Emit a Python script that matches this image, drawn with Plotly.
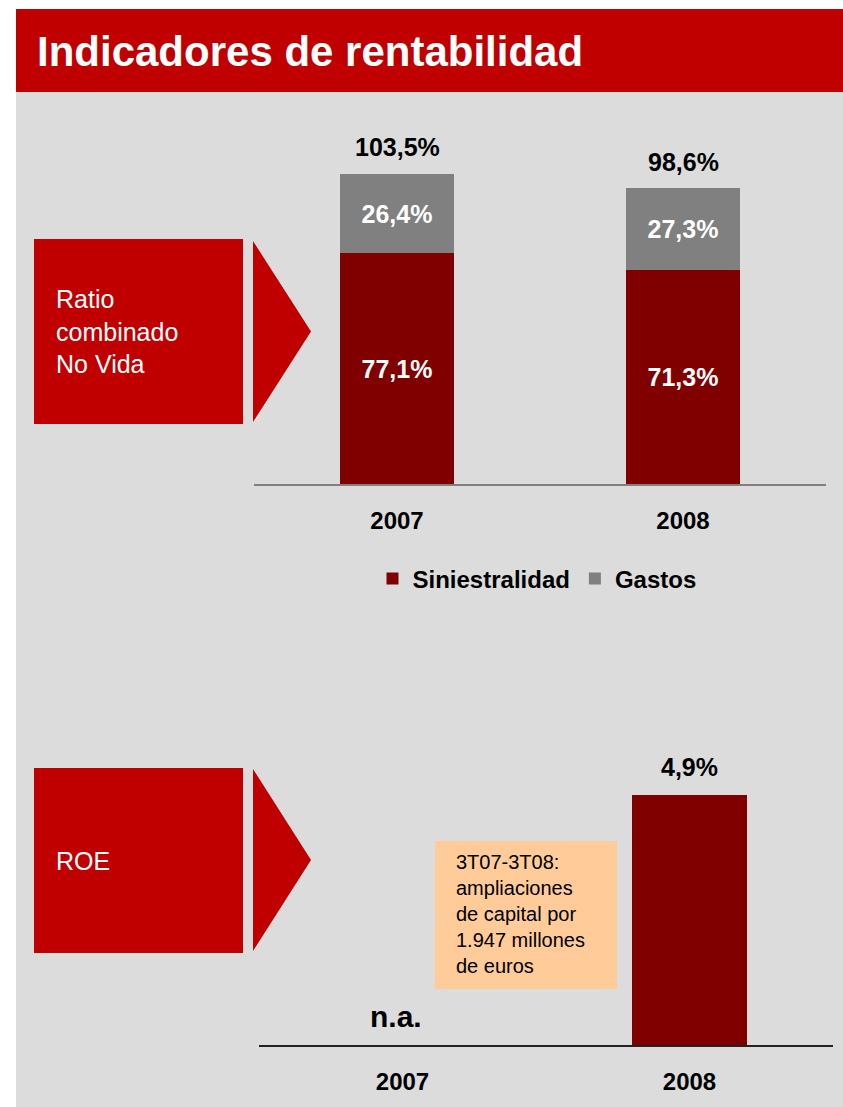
import plotly.graph_objects as go

# ---- data ----
years = ["2007", "2008"]
siniestralidad = [77.1, 71.3]
gastos = [26.4, 27.3]
roe = [None, 4.9]
roe_note = "3T07-3T08:<br>ampliaciones<br>de capital por<br>1.947 millones<br>de euros"

W, H = 843, 1107
FONT = "Liberation Sans, Arial, sans-serif"
RED = "#C00000"
DARK_RED = "#800000"
GREY_BAR = "#808080"
BG = "#DCDCDC"


def fx(x):
    return x / W


def fy(y):
    return 1 - y / H


def pct(v):
    return f"{v:.1f}".replace(".", ",") + "%"


totals = [round(a + b, 1) for a, b in zip(siniestralidad, gastos)]

fig = go.Figure()

# stacked combined ratio
fig.add_trace(go.Bar(
    x=years, y=siniestralidad, name="Siniestralidad",
    marker=dict(color=DARK_RED, line=dict(width=0)),
    text=[pct(v) for v in siniestralidad], textposition="inside",
    insidetextanchor="middle", textangle=0,
    textfont=dict(family=FONT, size=25, color="white", weight="bold"),
    width=0.4, xaxis="x", yaxis="y",
))
fig.add_trace(go.Bar(
    x=years, y=gastos, name="Gastos",
    marker=dict(color=GREY_BAR, line=dict(width=0)),
    text=[pct(v) for v in gastos], textposition="inside",
    insidetextanchor="middle", textangle=0,
    textfont=dict(family=FONT, size=25, color="white", weight="bold"),
    width=0.4, xaxis="x", yaxis="y",
))

# ROE
fig.add_trace(go.Bar(
    x=years, y=roe, name="ROE", showlegend=False,
    marker=dict(color=DARK_RED, line=dict(width=0)),
    width=0.4, xaxis="x2", yaxis="y2",
))

# value labels (category axes take the category index as position)
annotations = []
for i, t in enumerate(totals):
    annotations.append(dict(
        x=i, y=t, xref="x", yref="y", text=pct(t), showarrow=False,
        yanchor="bottom", yshift=10,
        font=dict(family=FONT, size=25, color="black", weight="bold"),
    ))
for i, v in enumerate(roe):
    if v is None:
        annotations.append(dict(
            x=i, y=0, xref="x2", yref="y2", text="n.a.", showarrow=False,
            yanchor="bottom", yshift=10, xshift=-7,
            font=dict(family=FONT, size=30, color="black", weight="bold"),
        ))
    else:
        annotations.append(dict(
            x=i, y=v, xref="x2", yref="y2", text=pct(v), showarrow=False,
            yanchor="bottom", yshift=12,
            font=dict(family=FONT, size=25, color="black", weight="bold"),
        ))

# header and side labels
annotations += [
    dict(x=fx(35), y=fy(51), xref="paper", yref="paper", xanchor="left",
         yanchor="middle", text="Indicadores de rentabilidad", showarrow=False,
         font=dict(family=FONT, size=42, color="white", weight="bold")),
    dict(x=fx(54), y=fy(332), xref="paper", yref="paper", xanchor="left",
         yanchor="middle", align="left", text="Ratio<br>combinado<br>No Vida",
         showarrow=False, font=dict(family=FONT, size=25, color="white")),
    dict(x=fx(54), y=fy(861), xref="paper", yref="paper", xanchor="left",
         yanchor="middle", align="left", text="ROE",
         showarrow=False, font=dict(family=FONT, size=25, color="white")),
    dict(x=fx(454), y=fy(914), xref="paper", yref="paper", xanchor="left",
         yanchor="middle", align="left", text=roe_note,
         showarrow=False, font=dict(family=FONT, size=20, color="black")),
]


def rect(x0, y0, x1, y1, color, layer="below"):
    return dict(type="rect", xref="paper", yref="paper",
                x0=fx(x0), x1=fx(x1), y0=fy(y1), y1=fy(y0),
                fillcolor=color, line=dict(width=0), layer=layer)


def arrow(x0, y0, y1, tip):
    ym = (y0 + y1) / 2
    path = (f"M {fx(x0)} {fy(y0)} L {fx(tip)} {fy(ym)} "
            f"L {fx(x0)} {fy(y1)} Z")
    return dict(type="path", xref="paper", yref="paper", path=path,
                fillcolor=RED, line=dict(width=0), layer="below")


shapes = [
    rect(16, 92, W, H, BG),
    rect(16, 9, W, 92, RED),
    rect(34, 239, 243, 424, RED),
    arrow(253, 241, 422, 311),
    rect(34, 768, 243, 953, RED),
    arrow(253, 769, 951, 311),
    rect(435, 841, 617, 989, "#FFCC99"),
]

axis_common = dict(
    type="category", range=[-0.5, 1.5], showgrid=False, zeroline=False,
    ticks="outside", tickcolor="rgba(0,0,0,0)", ticklen=14,
    tickfont=dict(family=FONT, size=24, color="black", weight="bold"),
    showline=True, fixedrange=True,
)

fig.update_layout(
    width=W, height=H, margin=dict(l=0, r=0, t=0, b=0, pad=0),
    paper_bgcolor="white", plot_bgcolor="rgba(0,0,0,0)",
    barmode="stack", bargap=0,
    showlegend=True,
    legend=dict(orientation="h", x=fx(537), y=fy(579), xanchor="center",
                yanchor="middle", traceorder="normal",
                bgcolor="rgba(0,0,0,0)", itemwidth=30,
                font=dict(family=FONT, size=24, color="black", weight="bold")),
    xaxis=dict(axis_common, domain=[fx(254), fx(826)], anchor="y",
               linecolor="#808080", linewidth=2),
    yaxis=dict(domain=[fy(484), fy(124)], range=[0, 120], visible=False,
               fixedrange=True),
    xaxis2=dict(axis_common, domain=[fx(259), fx(833)], anchor="y2",
                linecolor="#222222", linewidth=2),
    yaxis2=dict(domain=[fy(1045), fy(739)], range=[0, 6], visible=False,
                fixedrange=True),
    annotations=annotations,
    shapes=shapes,
)

fig.write_html("out.html")
